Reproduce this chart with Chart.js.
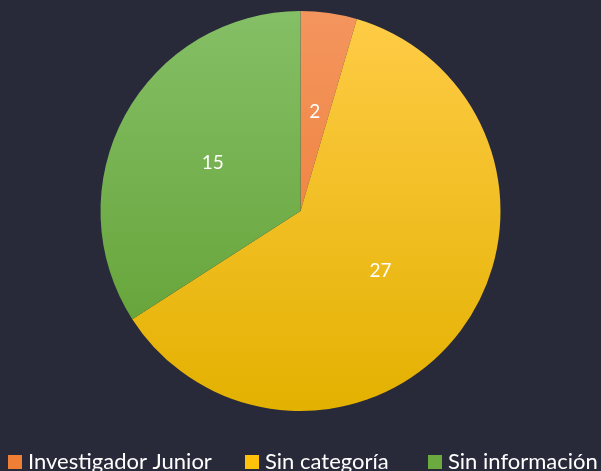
<!DOCTYPE html>
<html>
<head>
<meta charset="utf-8">
<script src="https://cdn.jsdelivr.net/npm/chart.js@4/dist/chart.umd.min.js"></script>
<style>
  html, body { margin: 0; padding: 0; background: #282a3a; }
  #wrap { width: 601px; height: 471px; position: relative; }
</style>
</head>
<body>
<div id="wrap"><canvas id="pieChart"></canvas></div>
<script>
const categories = ['Investigador Junior', 'Sin categoría', 'Sin información'];
const counts = [2, 27, 15];
const topColors = ['#f4955e', '#ffcc47', '#85bf66'];
const bottomColors = ['#eb782b', '#e3b100', '#5f9e2f'];
const legendColors = ['#ef7f35', '#ffc20a', '#6aaa3e'];

// vertical gradient over the chart area, like the original fill
function sliceFill(ctx) {
    const chart = ctx.chart;
    const area = chart.chartArea;
    if (!area) return legendColors[ctx.dataIndex];
    const g = chart.ctx.createLinearGradient(0, area.top, 0, area.bottom);
    g.addColorStop(0, topColors[ctx.dataIndex]);
    g.addColorStop(1, bottomColors[ctx.dataIndex]);
    return g;
}

// simple value labels at half the radius
const valueLabels = {
    id: 'valueLabels',
    afterDatasetsDraw(chart) {
        const c = chart.ctx;
        const meta = chart.getDatasetMeta(0);
        c.save();
        c.fillStyle = '#ffffff';
        c.font = '19px Lato, "Open Sans", sans-serif';
        c.textAlign = 'center';
        c.textBaseline = 'middle';
        meta.data.forEach((arc, i) => {
            const p = arc.getProps(['x', 'y', 'startAngle', 'endAngle', 'outerRadius'], true);
            const mid = (p.startAngle + p.endAngle) / 2;
            const r = p.outerRadius * 0.5;
            c.fillText(String(counts[i]), p.x + Math.cos(mid) * r, p.y + Math.sin(mid) * r);
        });
        c.restore();
    }
};

// one-row legend along the bottom edge (runs slightly off the right side, as in the original)
const rowLegend = {
    id: 'rowLegend',
    afterDraw(chart) {
        const c = chart.ctx;
        const starts = [8, 245, 428];
        c.save();
        c.font = '22px Lato, "Open Sans", sans-serif';
        c.textBaseline = 'alphabetic';
        c.textAlign = 'left';
        categories.forEach((name, i) => {
            c.fillStyle = legendColors[i];
            c.fillRect(starts[i], 455, 14, 14);
            c.fillStyle = '#ffffff';
            c.fillText(name, starts[i] + 20, 469);
        });
        c.restore();
    }
};

const ctx = document.getElementById('pieChart').getContext('2d');
new Chart(ctx, {
    type: 'pie',
    data: {
        labels: categories,
        datasets: [{
            data: counts,
            backgroundColor: sliceFill,
            borderWidth: 0
        }]
    },
    options: {
        responsive: true,
        maintainAspectRatio: false,
        animation: false,
        layout: { padding: { top: 11, bottom: 60 } },
        plugins: {
            tooltip: { enabled: false },
            legend: { display: false }
        }
    },
    plugins: [valueLabels, rowLegend]
});
</script>
</body>
</html>
